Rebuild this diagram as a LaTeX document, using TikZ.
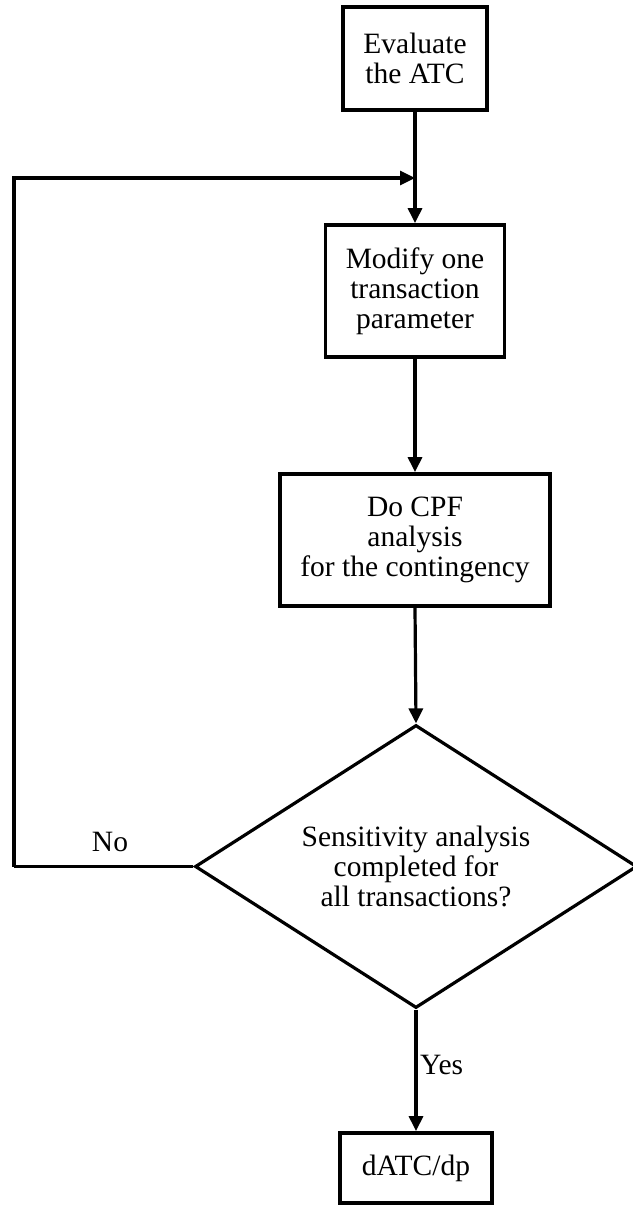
\documentclass[tikz,border=0pt]{standalone}
\usepackage{fontspec}
\setmainfont{Liberation Serif}
\usetikzlibrary{arrows.meta,shapes.geometric}

\begin{document}
\begin{tikzpicture}[x=1pt,y=-1pt,
  every node/.style={font=\fontsize{29.5}{30}\selectfont, align=center, inner sep=0pt},
  stepbox/.style={draw, line width=3.8pt, rectangle},
  choice/.style={draw, line width=3.2pt, diamond, aspect=1.56},
  conn/.style={line width=3.2pt, -{Triangle[length=15pt,width=14pt]}},
  plain/.style={line width=3.2pt}]
  \useasboundingbox (0,0) rectangle (632,1207);

  % process steps
  \node[stepbox, minimum width=144pt, minimum height=103pt] (eval) at (415,58.5)
    {Evaluate\\the ATC};
  \node[stepbox, minimum width=179pt, minimum height=132pt] (modify) at (415,291)
    {Modify one\\transaction\\parameter};
  \node[stepbox, minimum width=270pt, minimum height=132pt] (cpf) at (415,540)
    {Do CPF\\analysis\\for the contingency};
  \node[choice, minimum width=442pt, minimum height=283pt] (check) at (416,866.5)
    {Sensitivity analysis\\completed for\\all transactions?};
  \node[stepbox, minimum width=152pt, minimum height=70pt] (result) at (416,1168)
    {dATC/dp};

  % loop-back junction and corner
  \coordinate (join) at (415,178);
  \coordinate (corner) at (14,866.5);

  % main flow
  \draw[conn] (eval.south) -- (modify.north);
  \draw[conn] (modify.south) -- (cpf.north);
  \draw[conn] (cpf.south) -- (check.north);
  \draw[conn] (check.south) -- (result.north);

  % loop back for the next transaction
  \draw[plain] (check.west) -- (corner);
  \draw[conn] (corner) |- (join);

  % branch labels
  \node (no) at (110,842) {No};
  \node[anchor=west] (yes) at (420,1065) {Yes};
\end{tikzpicture}
\end{document}
